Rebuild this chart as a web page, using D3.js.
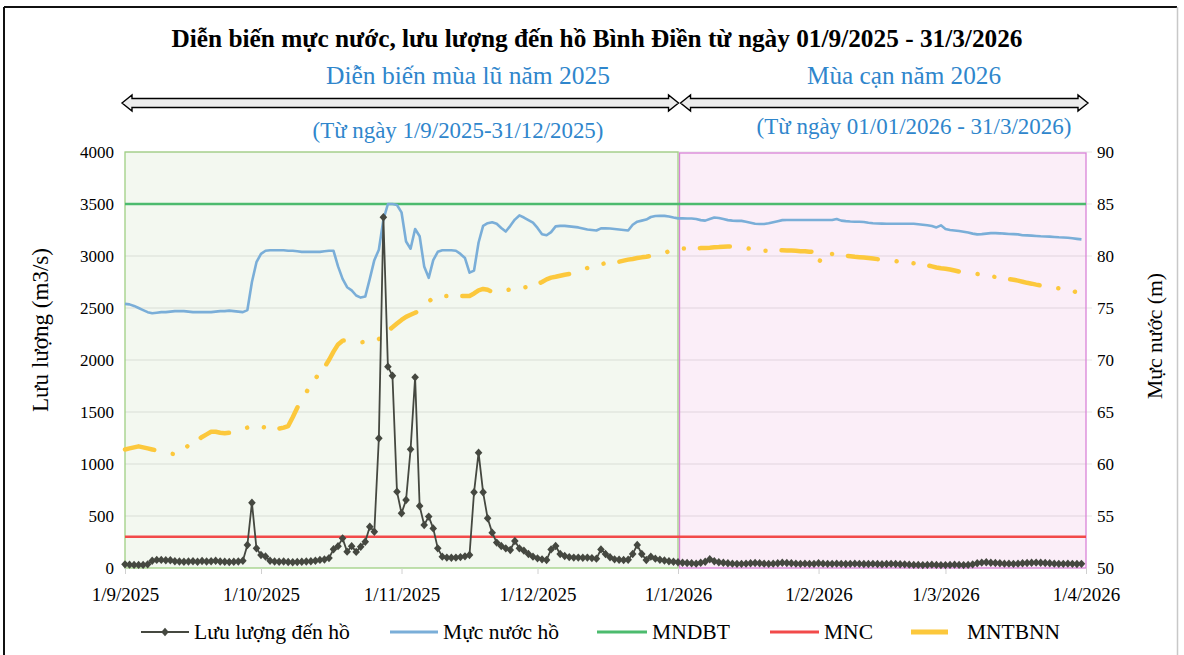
<!DOCTYPE html>
<html><head><meta charset="utf-8">
<script src="https://cdn.jsdelivr.net/npm/d3@7"></script>
<style>
body{margin:0;background:#fff;}
svg{display:block;font-family:"Liberation Serif","Times New Roman",serif;}
</style>
</head><body>
<svg id="c" width="1184" height="655"></svg>
<script>
// ---------- DATA ----------
const startDate = Date.UTC(2025, 8, 1);   // 1/9/2025, one value per day
const endDate = Date.UTC(2026, 3, 1);     // 1/4/2026

// Lưu lượng đến hồ (m3/s), daily from 1/9/2025
const flowValues = [
  35, 32, 30, 30, 30, 35, 70, 78, 78, 75,
  75, 65, 62, 60, 62, 65, 60, 68, 62, 65,
  70, 62, 60, 58, 60, 62, 70, 221, 628, 189,
  125, 110, 70, 62, 60, 62, 58, 55, 58, 60,
  62, 65, 70, 78, 82, 95, 180, 210, 285, 157,
  210, 155, 205, 253, 397, 349, 1247, 3372, 1936, 1849,
  734,
  526, 654, 1141, 1833, 596, 413, 494, 381, 189, 109,
  100, 98, 100, 105, 112, 125, 728, 1109, 728, 478,
  340, 244, 212, 189, 173, 260, 189, 167, 135, 109,
  93, 83, 77, 179, 212, 135, 115, 105, 100, 100,
  98, 100, 95, 90, 179, 135, 103, 83, 80, 77,
  80, 135, 221, 135, 77, 109, 90, 80, 72, 65,
  60,
  55, 50, 48, 45, 42, 50, 60, 84, 65, 55,
  50, 45, 42, 40, 40, 42, 45, 48, 45, 42,
  40, 42, 45, 50, 48, 45, 42, 40, 42, 40,
  40,
  45, 42, 40, 40, 42, 40, 38, 40, 42, 40,
  38, 38, 40, 38, 36, 38, 40, 38, 36, 35,
  32, 30, 30, 28, 30, 32, 30, 28,
  28, 30, 32, 30, 28, 30, 35, 45, 52, 55,
  50, 48, 45, 42, 42, 40, 42, 45, 48, 50,
  52, 50, 48, 45, 42, 40, 40, 42, 40, 38,
  40
];

// Mực nước hồ (m), daily from 1/9/2025
const levelValues = [
  75.4, 75.35, 75.2, 75.0, 74.8, 74.6, 74.5, 74.55, 74.6, 74.6,
  74.65, 74.7, 74.7, 74.7, 74.65, 74.6, 74.6, 74.6, 74.6, 74.6,
  74.65, 74.7, 74.7, 74.75, 74.7, 74.65, 74.6, 74.8, 77.5, 79.4,
  80.2, 80.5, 80.55, 80.55, 80.55, 80.55, 80.5, 80.5, 80.45, 80.4,
  80.4, 80.4, 80.4, 80.4, 80.45, 80.5, 80.5, 79.0, 77.8, 77.0,
  76.7, 76.2, 76.0, 76.1, 77.8, 79.6, 80.6, 83.5, 85.0, 85.0,
  84.9, 84.2, 81.4, 80.7, 82.6, 81.9, 79.0, 77.9, 79.6, 80.4,
  80.55, 80.55, 80.55, 80.5, 80.2, 79.8, 78.4, 78.6, 81.3, 82.9,
  83.15, 83.25, 83.1, 82.7, 82.35, 82.9, 83.5, 83.9, 83.7, 83.45,
  83.2, 82.7, 82.1, 82.0, 82.3, 82.85, 82.9, 82.9, 82.85, 82.8,
  82.75, 82.65, 82.55, 82.5, 82.45, 82.66, 82.66, 82.65, 82.6, 82.55,
  82.5, 82.45, 83.0, 83.3, 83.4, 83.5, 83.75, 83.85, 83.86, 83.86,
  83.8, 83.7, 83.62, 83.62, 83.6, 83.6, 83.55, 83.45, 83.4, 83.55,
  83.7, 83.65, 83.55, 83.45, 83.4, 83.38, 83.38, 83.3, 83.2, 83.1,
  83.08, 83.08, 83.15, 83.25, 83.35, 83.45, 83.46, 83.46, 83.46, 83.46,
  83.46, 83.46, 83.46, 83.46, 83.46, 83.46, 83.46, 83.56, 83.4, 83.35,
  83.32, 83.3, 83.3, 83.27, 83.2, 83.15, 83.12, 83.11, 83.1, 83.1,
  83.1, 83.1, 83.1, 83.1, 83.1, 83.05, 83.0, 82.95, 82.88, 82.75,
  82.95, 82.6, 82.5, 82.45, 82.4, 82.34, 82.25, 82.15, 82.08, 82.1,
  82.15, 82.2, 82.2, 82.18, 82.15, 82.12, 82.1, 82.08, 82.0, 81.98,
  81.96, 81.93, 81.9, 81.88, 81.86, 81.83, 81.8, 81.78, 81.75, 81.7,
  81.65, 81.6
];

// MNTBNN (m), daily from 1/9/2025
const mntbnnValues = [
  61.4, 61.5, 61.6, 61.7, 61.6, 61.5, 61.4, 61.3, 61.25, 61.1,
  61.0, 60.95, 61.1, 61.4, 61.8, 62.0, 62.3, 62.6, 62.85, 63.1,
  63.1, 63.0, 62.95, 63.0, 63.2, 63.33, 63.4, 63.5, 63.6, 63.65,
  63.6, 63.5, 63.4, 63.3, 63.4, 63.5, 63.65, 64.5, 65.4, 66.3,
  66.9, 67.6, 68.2, 68.8, 69.3, 70.0, 70.8, 71.5, 71.86, 71.9,
  71.85, 71.75, 71.7, 71.75, 71.85, 71.95, 72.0, 72.4, 72.8, 73.14,
  73.5, 73.85, 74.15, 74.35, 74.55, 74.7, 75.1, 75.6, 76.0, 76.05,
  76.1, 76.15, 76.15, 76.15, 76.15, 76.15, 76.15, 76.4, 76.7, 76.83,
  76.75, 76.55, 76.5, 76.6, 76.7, 76.78, 76.83, 76.9, 76.98, 77.05,
  77.12, 77.3, 77.5, 77.75, 77.92, 78.0, 78.1, 78.2, 78.27, 78.4,
  78.55, 78.7, 78.85, 79.0, 79.15, 79.22, 79.3, 79.35, 79.4, 79.45,
  79.55, 79.65, 79.72, 79.8, 79.87, 79.93, 80.0, 80.1, 80.2, 80.3,
  80.45, 80.6, 80.7, 80.72, 80.73, 80.74, 80.74, 80.76, 80.78, 80.8,
  80.83, 80.86, 80.9, 80.92, 80.93, 80.88, 80.82, 80.76, 80.7, 80.64,
  80.57, 80.5, 80.5, 80.52, 80.54, 80.55, 80.54, 80.52, 80.5, 80.46,
  80.45, 80.4, 80.42, 79.25, 80.26, 80.26, 80.2, 80.13, 80.08, 80.03,
  79.98, 79.93, 79.89, 79.85, 79.8, 79.75, 79.7, 79.65, 79.6, 79.55,
  79.5, 79.45, 79.4, 79.35, 79.3, 79.24, 79.18, 79.1, 79.0, 78.9,
  78.82, 78.78, 78.7, 78.6, 78.5, 78.45, 78.4, 78.33, 78.27, 78.2,
  78.12, 78.05, 77.98, 77.9, 77.83, 77.77, 77.72, 77.63, 77.53, 77.42,
  77.34, 77.25, 77.17, 77.09, 77.02, 76.96, 76.9, 76.85, 76.78, 76.65,
  76.5, 76.35
];

const mndbtLevel = 85;   // MNDBT (m)
const mncLevel = 53;     // MNC (m)

const leftTicks = [0, 500, 1000, 1500, 2000, 2500, 3000, 3500, 4000];
const rightTicks = [50, 55, 60, 65, 70, 75, 80, 85, 90];
const xTickDates = [[2025,8,1],[2025,9,1],[2025,10,1],[2025,11,1],[2026,0,1],[2026,1,1],[2026,2,1],[2026,3,1]];
const xTickLabels = ["1/9/2025","1/10/2025","1/11/2025","1/12/2025","1/1/2026","1/2/2026","1/3/2026","1/4/2026"];
const seasonSplit = [2026,0,1];

const titleText = "Diễn biến mực nước, lưu lượng đến hồ Bình Điền từ ngày 01/9/2025 - 31/3/2026";
const floodTitle = "Diễn biến mùa lũ năm 2025";
const floodRange = "(Từ ngày 1/9/2025-31/12/2025)";
const dryTitle = "Mùa cạn năm 2026";
const dryRange = "(Từ ngày 01/01/2026  - 31/3/2026)";
const leftAxisTitle = "Lưu lượng (m3/s)";
const rightAxisTitle = "Mực nước (m)";
const legendNames = ["Lưu lượng đến hồ", "Mực nước hồ", "MNDBT", "MNC", "MNTBNN"];

// ---------- STYLE / LAYOUT ----------
const C = {
  flow: "#454840", level: "#7aaed8", mndbt: "#4cbb6e", mnc: "#f24a4a", mntbnn: "#fcc83c",
  blueText: "#2f86cc", grid: "rgba(0,0,0,0.10)", greenFill: "#f3f8f0", greenStroke: "#9fcf83",
  pinkFill: "#fbeef8", pinkStroke: "#d983d8"
};
const P = {left: 125, right: 1086, top: 152, bottom: 568};

const svg = d3.select("#c");
const dayDate = i => new Date(startDate + i * 86400000);
const utc = a => new Date(Date.UTC(a[0], a[1], a[2]));

const x = d3.scaleUtc().domain([new Date(startDate), new Date(endDate)]).range([P.left, P.right]);
const yL = d3.scaleLinear().domain([0, 4000]).range([P.bottom, P.top]);
const yR = d3.scaleLinear().domain([50, 90]).range([P.bottom, P.top]);

function fit(sel, w) {
  const n = sel.node();
  const cur = n.getComputedTextLength();
  const fs = parseFloat(sel.attr("font-size"));
  sel.attr("font-size", (fs * w / cur).toFixed(2));
  return sel;
}

// outer frame
svg.append("line").attr("x1", 4).attr("x2", 1177).attr("y1", 7).attr("y2", 7).attr("stroke", "#111").attr("stroke-width", 2);
svg.append("line").attr("x1", 4).attr("x2", 4).attr("y1", 7).attr("y2", 655).attr("stroke", "#111").attr("stroke-width", 2);
svg.append("line").attr("x1", 1177.5).attr("x2", 1177.5).attr("y1", 7).attr("y2", 655).attr("stroke", "#c8c8c8").attr("stroke-width", 1.5);

// titles
fit(svg.append("text").attr("x", 597).attr("y", 47).attr("text-anchor", "middle")
  .attr("font-weight", "bold").attr("font-size", 21).attr("fill", "#000").text(titleText), 851);
fit(svg.append("text").attr("x", 468).attr("y", 84).attr("text-anchor", "middle")
  .attr("font-size", 21).attr("fill", C.blueText).text(floodTitle), 284);
fit(svg.append("text").attr("x", 904).attr("y", 84).attr("text-anchor", "middle")
  .attr("font-size", 21).attr("fill", C.blueText).text(dryTitle), 194);
fit(svg.append("text").attr("x", 458).attr("y", 138).attr("text-anchor", "middle")
  .attr("font-size", 20).attr("fill", C.blueText).text(floodRange), 291);
fit(svg.append("text").attr("x", 914).attr("y", 134).attr("text-anchor", "middle")
  .attr("font-size", 20).attr("fill", C.blueText).text(dryRange), 315);

// double arrows
function dblArrow(x1, x2, cy) {
  const hl = 10, hh = 8, sh = 4.5;
  const p = `M${x1},${cy} L${x1+hl},${cy-hh} L${x1+hl},${cy-sh} L${x2-hl},${cy-sh} L${x2-hl},${cy-hh} L${x2},${cy} L${x2-hl},${cy+hh} L${x2-hl},${cy+sh} L${x1+hl},${cy+sh} L${x1+hl},${cy+hh} Z`;
  svg.append("path").attr("d", p).attr("fill", "#ececec").attr("stroke", "#000").attr("stroke-width", 1.4);
}
const splitX = x(utc(seasonSplit));
dblArrow(122, splitX + 0.5, 103);
dblArrow(splitX + 2.5, 1088, 103);

// plot backgrounds
svg.append("rect").attr("x", P.left).attr("y", P.top).attr("width", splitX - P.left).attr("height", P.bottom - P.top)
  .attr("fill", C.greenFill);
svg.append("rect").attr("x", splitX + 1.5).attr("y", P.top + 1).attr("width", P.right - splitX - 1.5).attr("height", P.bottom - P.top - 1)
  .attr("fill", C.pinkFill);

// gridlines
svg.append("g").selectAll("line").data(leftTicks.filter(t => t > 0)).join("line")
  .attr("x1", P.left).attr("x2", P.right + 6).attr("y1", d => yL(d)).attr("y2", d => yL(d))
  .attr("stroke", C.grid).attr("stroke-width", 1.2);

// region borders
svg.append("rect").attr("x", P.left).attr("y", P.top).attr("width", splitX - P.left).attr("height", P.bottom - P.top)
  .attr("fill", "none").attr("stroke", C.greenStroke).attr("stroke-width", 1.3);
svg.append("rect").attr("x", splitX + 1.5).attr("y", P.top + 1).attr("width", P.right - splitX - 1.5).attr("height", P.bottom - P.top - 1)
  .attr("fill", "none").attr("stroke", C.pinkStroke).attr("stroke-width", 1.3);

// axes
const axL = svg.append("g").attr("transform", `translate(${P.left},0)`)
  .call(d3.axisLeft(yL).tickValues(leftTicks).tickSize(0).tickPadding(11).tickFormat(d3.format("d")));
const axR = svg.append("g").attr("transform", `translate(${P.right},0)`)
  .call(d3.axisRight(yR).tickValues(rightTicks).tickSize(0).tickPadding(11).tickFormat(d3.format("d")));
const axX = svg.append("g").attr("transform", `translate(0,${P.bottom})`)
  .call(d3.axisBottom(x).tickValues(xTickDates.map(utc)).tickSize(6).tickPadding(14)
    .tickFormat((d, i) => xTickLabels[i]));
[axL, axR, axX].forEach(g => {
  g.select(".domain").remove();
  g.selectAll("text").attr("font-family", "Liberation Serif, serif").attr("fill", "#000");
});
axL.selectAll("text").attr("font-size", 17);
axR.selectAll("text").attr("font-size", 17);
axX.selectAll("text").attr("font-size", 19);
axX.selectAll("line").attr("stroke", "#d0d0d0");

// axis titles
fit(svg.append("text").attr("transform", "translate(48,330) rotate(-90)").attr("text-anchor", "middle")
  .attr("font-size", 20).text(leftAxisTitle), 164);
fit(svg.append("text").attr("transform", "translate(1162,336) rotate(-90)").attr("text-anchor", "middle")
  .attr("font-size", 20).text(rightAxisTitle), 126);

// reference lines
svg.append("line").attr("x1", P.left).attr("x2", P.right).attr("y1", yR(mndbtLevel)).attr("y2", yR(mndbtLevel))
  .attr("stroke", C.mndbt).attr("stroke-width", 2.6);
svg.append("line").attr("x1", P.left).attr("x2", P.right).attr("y1", yR(mncLevel)).attr("y2", yR(mncLevel))
  .attr("stroke", C.mnc).attr("stroke-width", 2.6);

// water level
svg.append("path").datum(levelValues)
  .attr("d", d3.line().x((d, i) => x(dayDate(i))).y(d => yR(d)))
  .attr("fill", "none").attr("stroke", C.level).attr("stroke-width", 2.6).attr("stroke-linejoin", "round");

// MNTBNN (long dash dot dot)
svg.append("path").datum(mntbnnValues)
  .attr("d", d3.line().x((d, i) => x(dayDate(i))).y(d => yR(d)))
  .attr("fill", "none").attr("stroke", C.mntbnn).attr("stroke-width", 4.5)
  .attr("stroke-linecap", "round").attr("stroke-linejoin", "round")
  .attr("stroke-dasharray", "30 19 0.01 17 0.01 16");

// flow
svg.append("path").datum(flowValues)
  .attr("d", d3.line().x((d, i) => x(dayDate(i))).y(d => yL(d)))
  .attr("fill", "none").attr("stroke", C.flow).attr("stroke-width", 1.8).attr("stroke-linejoin", "round");
const diamond = "M0,-4.2L3.8,0L0,4.2L-3.8,0Z";
svg.append("g").selectAll("path").data(flowValues).join("path")
  .attr("transform", (d, i) => `translate(${x(dayDate(i))},${yL(d)})`)
  .attr("d", diamond).attr("fill", C.flow);

// legend
const legX = [141, 390, 597, 770, 911];
const legW = [48, 48, 50, 49, 37];
const legTextW = [156, 116, 78, 49, 93];
const legTextX = [194, 443, 652, 824, 967];
const legColors = [C.flow, C.level, C.mndbt, C.mnc, C.mntbnn];
const legStroke = [1.8, 2.8, 2.8, 2.8, 5];
const legY = 632;
legendNames.forEach((name, i) => {
  svg.append("line").attr("x1", legX[i]).attr("x2", legX[i] + legW[i]).attr("y1", legY).attr("y2", legY)
    .attr("stroke", legColors[i]).attr("stroke-width", legStroke[i]);
  if (i === 0) svg.append("path").attr("d", diamond).attr("transform", `translate(${legX[i] + legW[i] / 2},${legY})`).attr("fill", C.flow);
  fit(svg.append("text").attr("x", legTextX[i]).attr("y", legY + 7).attr("font-size", 18).text(name), legTextW[i]);
});
</script>
</body></html>
